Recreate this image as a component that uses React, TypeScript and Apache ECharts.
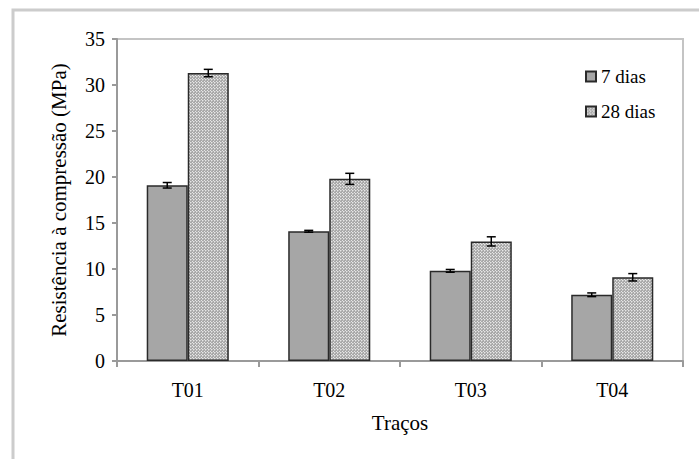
import React, { useEffect, useRef } from "react";
import * as echarts from "echarts";

const categories = ["T01", "T02", "T03", "T04"];
const seriesNames = ["7 dias", "28 dias"];
const values7 = [19.1, 14.1, 9.8, 7.2];
const values28 = [31.3, 19.8, 13.0, 9.1];
const err7 = [0.3, 0.1, 0.15, 0.2];
const err28 = [0.4, 0.6, 0.5, 0.4];
const yTicks = { min: 0, max: 35, interval: 5 };

const FONT = "Liberation Serif";
const BAR_FRAC = 0.29;

function makePattern(): string {
  const c = document.createElement("canvas");
  c.width = 3;
  c.height = 3;
  const ctx = c.getContext("2d")!;
  ctx.fillStyle = "#a8a8a8";
  ctx.fillRect(0, 0, 3, 3);
  ctx.fillStyle = "#e6e6e6";
  ctx.fillRect(1, 1, 1, 1);
  ctx.fillRect(0, 0, 1, 1);
  ctx.fillStyle = "#c4c4c4";
  ctx.fillRect(2, 1, 1, 1);
  ctx.fillRect(1, 2, 1, 1);
  return c.toDataURL();
}

export default function App() {
  const ref = useRef<HTMLDivElement>(null);
  useEffect(() => {
    if (!ref.current) return;
    const chart = echarts.init(ref.current, null, { renderer: "svg" });
    const pattern = makePattern();

    const errRender = (offsetSign: number) => (params: any, api: any) => {
      const i = api.value(0);
      const mean = api.value(1);
      const e = api.value(2);
      const catW = api.size([1, 0])[0];
      const bw = catW * BAR_FRAC;
      const c = api.coord([i, mean]);
      const x = c[0] + (offsetSign * bw) / 2;
      const yTop = api.coord([i, mean + e])[1];
      const yBot = api.coord([i, mean - e])[1];
      const cap = 4.5;
      const st = { stroke: "#000", lineWidth: 1.5 };
      return {
        type: "group",
        children: [
          { type: "line", shape: { x1: x, y1: yTop, x2: x, y2: yBot }, style: st },
          { type: "line", shape: { x1: x - cap, y1: yTop, x2: x + cap, y2: yTop }, style: st },
          { type: "line", shape: { x1: x - cap, y1: yBot, x2: x + cap, y2: yBot }, style: st },
        ],
      };
    };

    chart.setOption({
      animation: false,
      backgroundColor: "#fff",
      textStyle: { fontFamily: FONT },
      graphic: [
        {
          type: "rect",
          shape: { x: 13, y: 10, width: 720, height: 480 },
          style: { fill: "none", stroke: "#cccccc", lineWidth: 3 },
          silent: true,
        },
      ],
      grid: {
        left: 117,
        top: 39,
        right: 16,
        bottom: 98,
        show: true,
        borderColor: "#c4c4c4",
        borderWidth: 2,
      },
      legend: {
        orient: "vertical",
        left: 580,
        top: 62,
        itemWidth: 10,
        itemHeight: 10,
        itemGap: 16,
        icon: "rect",
        data: seriesNames,
        textStyle: { fontFamily: FONT, fontSize: 19, color: "#000" },
      },
      xAxis: {
        type: "category",
        data: categories,
        name: "Traços",
        nameLocation: "middle",
        nameGap: 51,
        nameTextStyle: { fontFamily: FONT, fontSize: 21, color: "#000" },
        axisLine: { show: true, lineStyle: { color: "#9a9a9a", width: 2 } },
        axisTick: { show: true, length: 6, lineStyle: { color: "#9a9a9a", width: 2 } },
        axisLabel: { fontFamily: FONT, fontSize: 20, color: "#000", margin: 19 },
        splitLine: { show: false },
      },
      yAxis: {
        type: "value",
        min: yTicks.min,
        max: yTicks.max,
        interval: yTicks.interval,
        name: "Resistência à compressão (MPa)",
        nameLocation: "middle",
        nameGap: 48,
        nameTextStyle: { fontFamily: FONT, fontSize: 21, color: "#000" },
        axisLine: { show: true, lineStyle: { color: "#9a9a9a", width: 2 } },
        axisTick: { show: true, length: 5, lineStyle: { color: "#9a9a9a", width: 2 } },
        axisLabel: { fontFamily: FONT, fontSize: 20, color: "#000", margin: 12 },
        splitLine: { show: false },
      },
      series: [
        {
          name: seriesNames[0],
          type: "bar",
          data: values7,
          barWidth: BAR_FRAC * 100 + "%",
          barGap: "0%",
          itemStyle: { color: "#a6a6a6", borderColor: "#2a2a2a", borderWidth: 1.5 },
        },
        {
          name: seriesNames[1],
          type: "bar",
          data: values28,
          barWidth: BAR_FRAC * 100 + "%",
          barGap: "0%",
          itemStyle: {
            color: { image: pattern, repeat: "repeat" },
            borderColor: "#2a2a2a",
            borderWidth: 1.5,
          },
        },
        {
          name: "err7",
          type: "custom",
          renderItem: errRender(-1),
          encode: { x: 0, y: 1 },
          data: categories.map((_, i) => [i, values7[i], err7[i]]),
          z: 10,
        },
        {
          name: "err28",
          type: "custom",
          renderItem: errRender(1),
          encode: { x: 0, y: 1 },
          data: categories.map((_, i) => [i, values28[i], err28[i]]),
          z: 10,
        },
      ],
    });
    return () => chart.dispose();
  }, []);
  return (
    <div
      ref={ref}
      style={{ position: "fixed", left: 0, top: 0, width: 699, height: 459 }}
    />
  );
}
